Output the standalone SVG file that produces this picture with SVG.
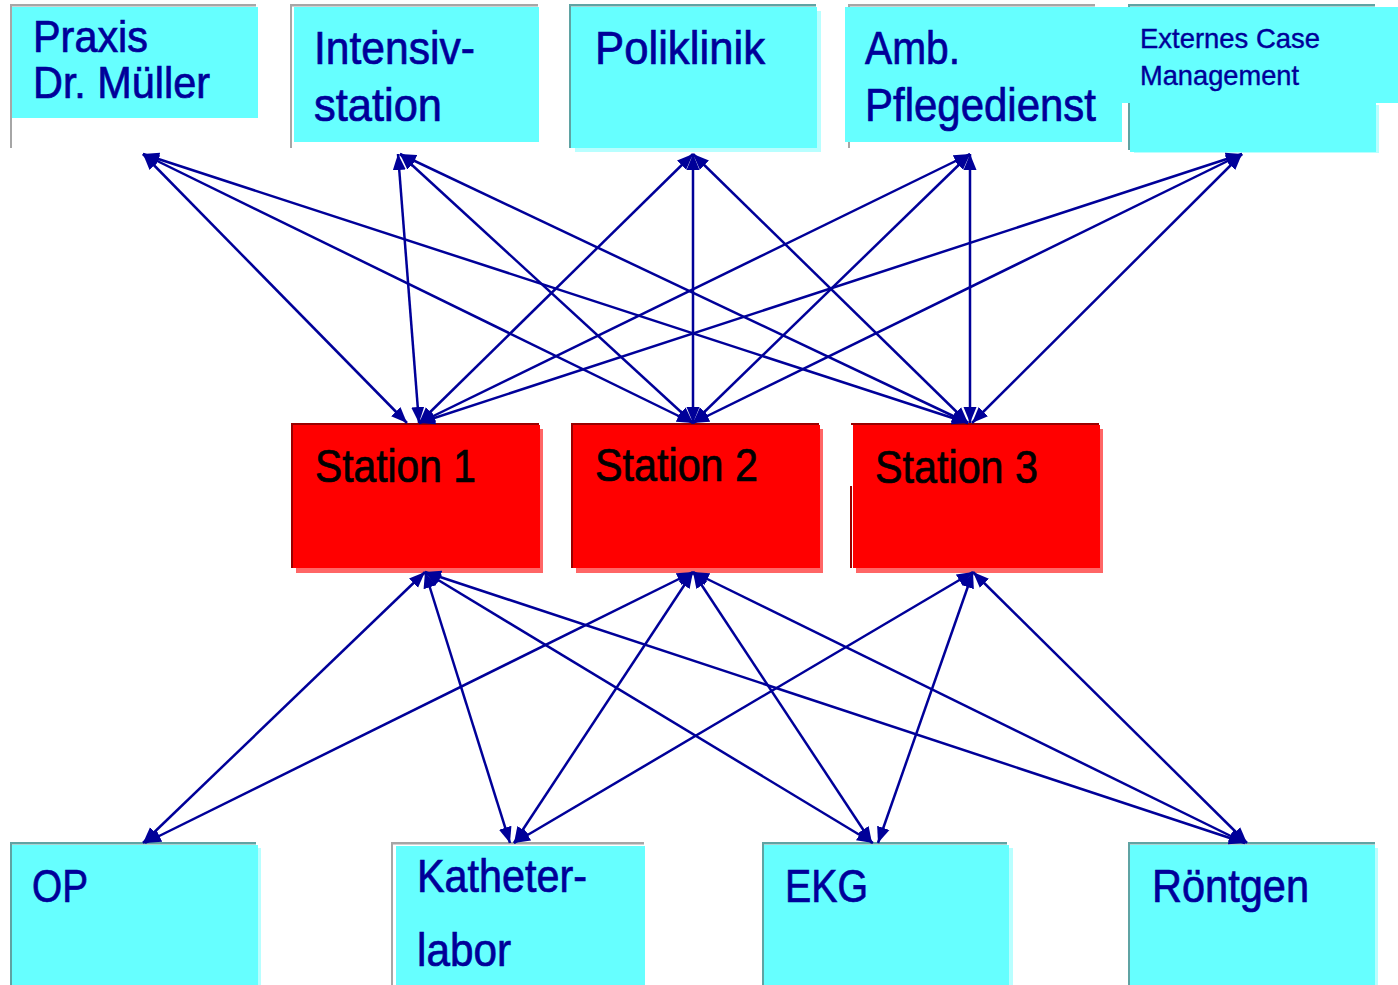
<svg xmlns="http://www.w3.org/2000/svg" width="1398" height="985" viewBox="0 0 1398 985">
<defs>
<style>
.cy{fill:#66FFFF}
.sh{fill:#B8FFFF}
.gr{fill:#A6A6A6}
.tl{fill:#5FA3A3}
.rd{fill:#FF0000}
.pk{fill:#FF6666}
.dr{fill:#990000}
.t{font-family:"Liberation Sans",Arial,sans-serif;font-size:46px;fill:#000099;stroke:#000099;stroke-width:0.7px}
.tp{font-size:44px}
.ts{font-family:"Liberation Sans",Arial,sans-serif;font-size:28px;fill:#000099;stroke:#000099;stroke-width:0.4px}
.tb{font-family:"Liberation Sans",Arial,sans-serif;font-size:46px;fill:#000000;stroke:#000000;stroke-width:0.7px}
.c line{stroke:#000099;stroke-width:2.5;marker-start:url(#ah);marker-end:url(#ah)}
</style>
<marker id="ah" markerUnits="userSpaceOnUse" markerWidth="17" markerHeight="14" refX="16" refY="7" orient="auto-start-reverse" viewBox="0 0 17 14">
<path d="M0,0.5 L16,7 L0,13.5 Z" fill="#000099"/>
</marker>
</defs>
<rect width="1398" height="985" fill="#FFFFFF"/>

<g id="praxis">
<rect class="gr" x="10" y="4" width="246" height="2.5"/>
<rect class="gr" x="10" y="4" width="2" height="144"/>
<rect class="cy" x="12" y="7" width="246" height="111"/>
<text class="t tp" x="33" y="52" textLength="115" lengthAdjust="spacingAndGlyphs">Praxis</text>
<text class="t tp" x="33" y="98" textLength="177" lengthAdjust="spacingAndGlyphs">Dr. Müller</text>
</g>

<g id="intensiv">
<rect class="gr" x="290" y="4" width="248" height="2.5"/>
<rect class="gr" x="290" y="4" width="2" height="144"/>
<rect class="cy" x="294" y="7" width="245" height="135"/>
<text class="t" x="314" y="64" textLength="161" lengthAdjust="spacingAndGlyphs">Intensiv-</text>
<text class="t" x="314" y="121" textLength="128" lengthAdjust="spacingAndGlyphs">station</text>
</g>

<g id="poliklinik">
<rect class="tl" x="569" y="4" width="247" height="2.5"/>
<rect class="tl" x="569" y="4" width="2" height="144"/>
<rect class="sh" x="575" y="11" width="246" height="141"/>
<rect class="cy" x="571" y="7" width="246" height="141"/>
<text class="t" x="595" y="64" textLength="170" lengthAdjust="spacingAndGlyphs">Poliklinik</text>
</g>

<g id="amb">
<rect class="gr" x="848" y="4" width="247" height="2.5"/>
<rect class="gr" x="848" y="4" width="2" height="144"/>
<rect class="cy" x="845" y="7" width="277" height="135"/>
<text class="t" x="865" y="64" textLength="95" lengthAdjust="spacingAndGlyphs">Amb.</text>
<text class="t" x="865" y="121" textLength="231" lengthAdjust="spacingAndGlyphs">Pflegedienst</text>
</g>

<g id="externes">
<rect class="tl" x="1128" y="4" width="247" height="2.5"/>
<rect class="tl" x="1128" y="4" width="2" height="146"/>
<rect class="sh" x="1134" y="105" width="245" height="48"/>
<rect class="cy" x="1130" y="7" width="246" height="145"/>
<rect class="cy" x="1122" y="7" width="276" height="96"/>
<text class="ts" x="1140" y="48" textLength="180" lengthAdjust="spacingAndGlyphs">Externes Case</text>
<text class="ts" x="1140" y="85" textLength="159" lengthAdjust="spacingAndGlyphs">Management</text>
</g>

<g id="station1">
<rect class="pk" x="296" y="429" width="247" height="144"/>
<rect class="dr" x="291" y="423" width="248" height="2"/>
<rect class="dr" x="291" y="423" width="2" height="145"/>
<rect class="rd" x="293" y="425" width="247" height="143"/>
<text class="tb" x="315" y="482" textLength="161" lengthAdjust="spacingAndGlyphs">Station 1</text>
</g>

<g id="station2">
<rect class="pk" x="576" y="429" width="247" height="144"/>
<rect class="dr" x="571" y="423" width="248" height="2"/>
<rect class="dr" x="571" y="423" width="2" height="145"/>
<rect class="rd" x="573" y="425" width="247" height="143"/>
<text class="tb" x="595" y="481" textLength="163" lengthAdjust="spacingAndGlyphs">Station 2</text>
</g>

<g id="station3">
<rect class="pk" x="856" y="429" width="247" height="144"/>
<rect class="dr" x="851" y="423" width="248" height="2"/>
<rect class="dr" x="850" y="486" width="2" height="82"/>
<rect class="rd" x="853" y="425" width="247" height="143"/>
<text class="tb" x="875" y="483" textLength="163" lengthAdjust="spacingAndGlyphs">Station 3</text>
</g>

<g id="op">
<rect class="tl" x="10" y="842" width="246" height="2.5"/>
<rect class="tl" x="10" y="842" width="2" height="143"/>
<rect class="sh" x="15" y="848" width="246" height="137"/>
<rect class="cy" x="12" y="845" width="246" height="140"/>
<text class="t" x="32" y="902" textLength="56" lengthAdjust="spacingAndGlyphs">OP</text>
</g>

<g id="katheter">
<rect class="gr" x="391" y="842" width="253" height="2.5"/>
<rect class="gr" x="391" y="842" width="2" height="143"/>
<rect class="cy" x="396" y="846" width="249" height="139"/>
<text class="t" x="417" y="892" textLength="170" lengthAdjust="spacingAndGlyphs">Katheter-</text>
<text class="t" x="417" y="966" textLength="94" lengthAdjust="spacingAndGlyphs">labor</text>
</g>

<g id="ekg">
<rect class="tl" x="762" y="842" width="245" height="2.5"/>
<rect class="tl" x="762" y="842" width="2" height="143"/>
<rect class="sh" x="767" y="848" width="246" height="137"/>
<rect class="cy" x="764" y="845" width="245" height="140"/>
<text class="t" x="785" y="902" textLength="83" lengthAdjust="spacingAndGlyphs">EKG</text>
</g>

<g id="roentgen">
<rect class="tl" x="1128" y="842" width="247" height="2.5"/>
<rect class="tl" x="1128" y="842" width="2" height="143"/>
<rect class="sh" x="1133" y="848" width="245" height="137"/>
<rect class="cy" x="1130" y="845" width="245" height="140"/>
<text class="t" x="1152" y="902" textLength="157" lengthAdjust="spacingAndGlyphs">Röntgen</text>
</g>

<g id="connectors" class="c">
<line x1="143" y1="154" x2="407" y2="423"/>
<line x1="143" y1="154" x2="693" y2="423"/>
<line x1="143" y1="154" x2="968" y2="423"/>
<line x1="398" y1="154" x2="419" y2="423"/>
<line x1="400" y1="154" x2="693" y2="423"/>
<line x1="400" y1="154" x2="968" y2="423"/>
<line x1="693" y1="154" x2="419" y2="423"/>
<line x1="693" y1="154" x2="693" y2="423"/>
<line x1="693" y1="154" x2="968" y2="423"/>
<line x1="970" y1="154" x2="419" y2="423"/>
<line x1="970" y1="154" x2="693" y2="423"/>
<line x1="970" y1="154" x2="970" y2="423"/>
<line x1="1242" y1="154" x2="419" y2="423"/>
<line x1="1242" y1="154" x2="693" y2="423"/>
<line x1="1242" y1="154" x2="972" y2="423"/>
<line x1="425" y1="572" x2="143" y2="843"/>
<line x1="425" y1="572" x2="510" y2="843"/>
<line x1="425" y1="572" x2="873" y2="843"/>
<line x1="425" y1="572" x2="1245" y2="843"/>
<line x1="693" y1="572" x2="145" y2="843"/>
<line x1="693" y1="572" x2="514" y2="843"/>
<line x1="693" y1="572" x2="872" y2="843"/>
<line x1="693" y1="572" x2="1245" y2="843"/>
<line x1="973" y1="572" x2="514" y2="843"/>
<line x1="973" y1="572" x2="878" y2="843"/>
<line x1="973" y1="572" x2="1247" y2="843"/>
</g>
</svg>
